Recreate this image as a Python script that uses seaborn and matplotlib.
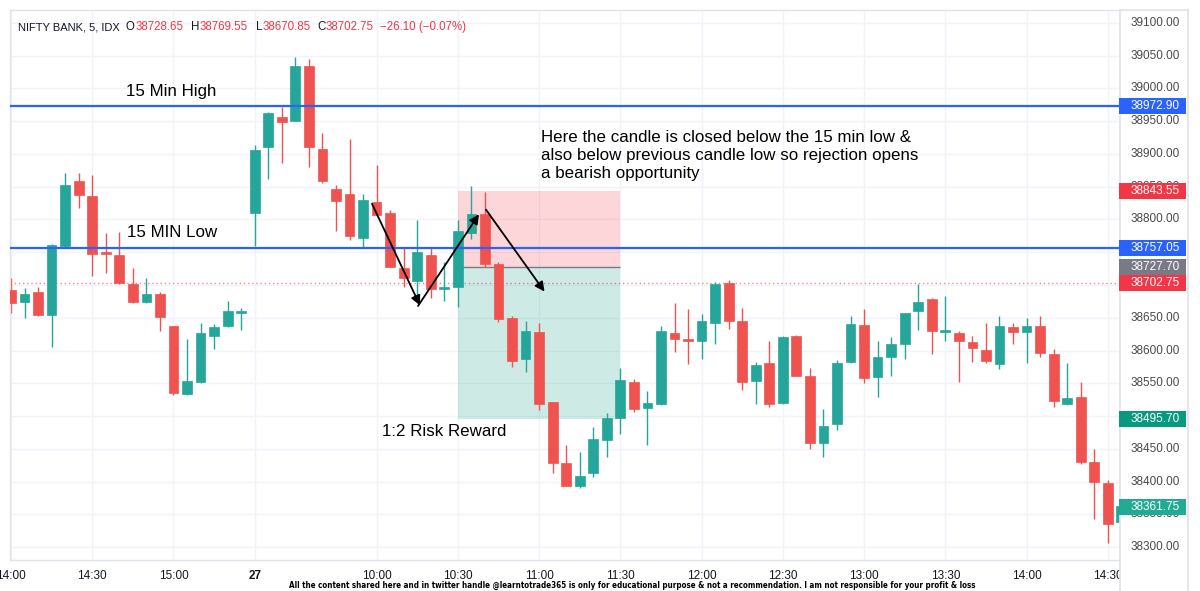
import numpy as np
import pandas as pd
import matplotlib
matplotlib.use('Agg')
import matplotlib.pyplot as plt
from matplotlib import font_manager as fm
from matplotlib.patches import Rectangle
from matplotlib.transforms import blended_transform_factory
import seaborn as sns

sns.set_theme(style='white')
plt.rcParams['font.family'] = ['Liberation Sans', 'DejaVu Sans']

# 5 min candles, NIFTY BANK (26th 14:00 .. 27th 14:35)
opens = [38692, 38674, 38689, 38654, 38760, 38859, 38836, 38751, 38746, 38701, 38674, 38686,
         38637, 38534, 38552, 38622, 38637, 38658,
         38810, 38911, 38956, 38950, 39034, 38908, 38847, 38839, 38772, 38827, 38810, 38726,
         38706, 38746, 38694, 38697, 38779, 38808, 38732, 38650, 38587, 38628, 38521, 38428,
         38393, 38413, 38463, 38497, 38552, 38512, 38518, 38627, 38618, 38614, 38642, 38703,
         38645, 38553, 38581, 38520, 38622, 38561, 38459, 38488, 38582, 38639, 38560, 38590,
         38610, 38660, 38679, 38628, 38627, 38613, 38601, 38579, 38636, 38628, 38637, 38595,
         38518, 38529, 38430, 38398, 38338]
highs = [38711, 38695, 38697, 38763, 38871, 38871, 38868, 38779, 38781, 38726, 38711, 38689,
         38638, 38618, 38642, 38640, 38676, 38665,
         38914, 38964, 38972, 39048, 39045, 38932, 38853, 38923, 38839, 38883, 38815, 38758,
         38799, 38758, 38735, 38799, 38851, 38842, 38735, 38653, 38645, 38642, 38522, 38456,
         38445, 38483, 38505, 38573, 38556, 38538, 38637, 38672, 38663, 38656, 38705, 38708,
         38665, 38582, 38614, 38622, 38623, 38573, 38511, 38586, 38653, 38663, 38614, 38621,
         38657, 38702, 38680, 38683, 38630, 38622, 38642, 38653, 38642, 38650, 38653, 38602,
         38581, 38552, 38450, 38402, 38372]
lows = [38657, 38650, 38653, 38605, 38758, 38818, 38714, 38718, 38702, 38673, 38672, 38630,
        38532, 38532, 38551, 38602, 38636, 38631,
        38759, 38862, 38886, 38950, 38880, 38856, 38782, 38769, 38757, 38806, 38727, 38697,
        38680, 38680, 38676, 38666, 38770, 38727, 38643, 38575, 38567, 38509, 38413, 38393,
        38390, 38407, 38437, 38472, 38506, 38456, 38517, 38598, 38579, 38587, 38610, 38633,
        38540, 38518, 38514, 38518, 38561, 38450, 38437, 38479, 38581, 38550, 38529, 38561,
        38587, 38631, 38595, 38614, 38552, 38582, 38581, 38572, 38610, 38581, 38590, 38514,
        38517, 38427, 38343, 38306, 38332]
closes = [38672, 38686, 38654, 38761, 38853, 38837, 38747, 38748, 38703, 38674, 38686, 38651,
          38535, 38553, 38627, 38636, 38660, 38660,
          38906, 38963, 38949, 39034, 38911, 38859, 38828, 38775, 38830, 38807, 38728, 38711,
          38750, 38694, 38697, 38782, 38808, 38732, 38648, 38584, 38630, 38518, 38428, 38393,
          38408, 38465, 38497, 38555, 38511, 38520, 38630, 38618, 38614, 38645, 38701, 38645,
          38552, 38578, 38518, 38621, 38561, 38459, 38485, 38581, 38640, 38558, 38590, 38610,
          38657, 38674, 38630, 38631, 38614, 38604, 38584, 38637, 38628, 38637, 38596, 38523,
          38528, 38430, 38399, 38335, 38362]

tick_stamps = ['2022-09-26 14:00', '2022-09-26 14:30', '2022-09-26 15:00', '2022-09-27 09:15',
               '2022-09-27 10:00', '2022-09-27 10:30', '2022-09-27 11:00', '2022-09-27 11:30',
               '2022-09-27 12:00', '2022-09-27 12:30', '2022-09-27 13:00', '2022-09-27 13:30',
               '2022-09-27 14:00', '2022-09-27 14:30']
tick_labels = ['14:00', '14:30', '15:00', '27', '10:00', '10:30', '11:00', '11:30',
               '12:00', '12:30', '13:00', '13:30', '14:00', '14:30']

price_ticks = [39100, 39050, 39000, 38950, 38900, 38850, 38800, 38750, 38700, 38650,
               38600, 38550, 38500, 38450, 38400, 38350, 38300]

# levels
high_15 = 38972.90
low_15 = 38757.05
stop = 38843.55
entry = 38727.70
target = 38495.70
last_price = 38702.75
last_bar = 38361.75
trade_start = '2022-09-27 10:30'
trade_end = '2022-09-27 11:30'

GREEN = '#26a69a'
RED = '#ef5350'
BLUE = '#2962ff'
DARK = '#131722'
GRID = '#f0f3fa'
BORDER = '#e0e3eb'

times = pd.date_range('2022-09-26 14:00', '2022-09-26 15:25', freq='5min').append(
    pd.date_range('2022-09-27 09:15', '2022-09-27 14:35', freq='5min'))
df = pd.DataFrame({'time': times, 'open': opens, 'high': highs, 'low': lows, 'close': closes})
df['x'] = np.arange(len(df))
df['color'] = np.where(df['close'] >= df['open'], GREEN, RED)
df['bottom'] = df[['open', 'close']].min(axis=1)
df['body'] = (df['close'] - df['open']).abs().clip(lower=1.5)

ticks = [times.get_loc(pd.Timestamp(t)) for t in tick_stamps]
x0 = times.get_loc(pd.Timestamp(trade_start))
x1 = times.get_loc(pd.Timestamp(trade_end))

W, H = 1200, 591
YLO, YHI = 38280.2, 39119.8
PX = (YHI - YLO) / 550  # price per pixel
fig = plt.figure(figsize=(12, 5.91), dpi=100)
ax = fig.add_axes([10 / W, 31 / H, 1110 / W, 550 / H])
ax.set_facecolor('white')

# grid
ax.set_yticks(price_ticks)
ax.set_xticks(ticks)
ax.grid(True, color=GRID, lw=1, zorder=0)
ax.set_axisbelow(True)

# trade box
ax.fill_between([x0, x1], entry, stop, color='#f23645', alpha=0.2, lw=0, zorder=1)
ax.fill_between([x0, x1], target, entry, color='#089981', alpha=0.2, lw=0, zorder=1)
ax.hlines(entry, x0, x1, color='#787b86', lw=1, zorder=1.5)

# candles
ax.vlines(df['x'], df['low'], df['high'], colors=df['color'], lw=1.0, zorder=2)
ax.bar(df['x'], df['body'], bottom=df['bottom'], width=0.72, color=df['color'],
       edgecolor=df['color'], lw=0.5, zorder=3)

# lines
ax.axhline(high_15, color=BLUE, lw=1.6, zorder=4)
ax.axhline(low_15, color=BLUE, lw=1.6, zorder=4)
ax.axhline(last_price, color='#f23645', lw=1.0, ls=(0, (1, 2)), alpha=0.6, zorder=1.5)

ax.set_xlim(-0.074, 81.9)
ax.set_ylim(YLO, YHI)

ax.tick_params(axis='y', left=False, labelleft=False)
ax.tick_params(axis='x', bottom=False, length=0, pad=7, labelsize=8.5, labelcolor=DARK)
ax.set_xticklabels(tick_labels)
for lab in ax.get_xticklabels():
    if lab.get_text() == '27':
        lab.set_fontweight('bold')
for s in ax.spines.values():
    s.set_color(BORDER)
    s.set_linewidth(1)

# arrows
arrow = dict(arrowstyle='-|>', color='black', lw=1.3, mutation_scale=14, shrinkA=0, shrinkB=0)
ax.annotate('', xy=(30.2, 38669), xytext=(26.66, 38824), arrowprops=arrow, zorder=5)
ax.annotate('', xy=(34.56, 38808), xytext=(30.06, 38668), arrowprops=arrow, zorder=5)
ax.annotate('', xy=(39.4, 38690), xytext=(35.08, 38815), arrowprops=arrow, zorder=5)

# annotations
tkw = dict(fontsize=12.2, color='black', ha='left', va='center', zorder=6)
ax.text(8.49, 38994.7, '15 Min High', **tkw)
ax.text(8.57, 38779.4, '15 MIN Low', **tkw)
ax.text(39.14, 38897, 'Here the candle is closed below the 15 min low &\n'
        'also below previous candle low so rejection opens\n'
        'a bearish opportunity', linespacing=1.25, **tkw)
ax.text(27.4, 38477, '1:2 Risk Reward', **tkw)

# right price scale
ax2 = fig.add_axes([1120 / W, 0, 68 / W, 1 - 10 / H], zorder=3)
ax2.set_facecolor('white')
ax2.set_xticks([])
ax2.set_yticks([])
for k, s in ax2.spines.items():
    s.set_color(BORDER)
    s.set_visible(k != 'bottom')
ax2.set_xlim(0, 1)
blend = blended_transform_factory(ax2.transAxes, ax.transData)
tx = 35.5 / 68

labels = [(high_15, BLUE), (stop, '#f23645'), (low_15, BLUE), (entry, '#787b86'),
          (last_price, '#f23645'), (target, '#089981'), (last_bar, '#22ab94')]
box_h = 16 * PX


def hidden(p):
    # tick label fully behind the coloured price boxes (small gaps ignored)
    lo, hi = p - 5 * PX, p + 5 * PX
    cur = lo
    for a, b in sorted((c - box_h / 2, c + box_h / 2) for c, _ in labels):
        if a <= cur + 4 * PX and b > cur:
            cur = b
    return cur >= hi


for p in price_ticks:
    if hidden(p):
        continue
    ax2.text(tx, p, f'{p:.2f}', transform=blend, ha='center', va='center',
             fontsize=8.5, color='#4a4a4a', clip_on=False)

for p, c in labels:
    ax2.add_patch(Rectangle((-1 / 68, p - box_h / 2), 67 / 68, box_h, transform=blend,
                            facecolor=c, edgecolor='none', clip_on=False, zorder=4))
    ax2.text(tx, p, f'{p:.2f}', transform=blend, ha='center', va='center',
             fontsize=8.5, color='white', zorder=5, clip_on=False)

# header
hy = 1 - 27 / H
fig.text(18 / W, hy, 'NIFTY BANK, 5, IDX', fontsize=8, color=DARK, va='center')
hred = '#f23645'
for lab, xl, val, xv in [('O', 126, '38728.65', 136), ('H', 191, '38769.55', 200),
                         ('L', 256, '38670.85', 263), ('C', 317, '38702.75', 326)]:
    fig.text(xl / W, hy, lab, fontsize=8.3, color=DARK, va='center')
    fig.text(xv / W, hy, val, fontsize=8.3, color=hred, va='center')
fig.text(380 / W, hy, '\u221226.10 (\u22120.07%)', fontsize=8.3, color=hred, va='center')

# footer (narrow bold font if available)
names = {f.name for f in fm.fontManager.ttflist}
foot = dict(ha='center', va='center', fontweight='bold', color='black', zorder=10)
if 'Liberation Sans Narrow' in names:
    foot.update(family='Liberation Sans Narrow', fontsize=6.4)
elif any(f.name == 'DejaVu Sans' and f.stretch == 'condensed' for f in fm.fontManager.ttflist):
    foot.update(family='DejaVu Sans', fontstretch='condensed', fontsize=5.75)
else:
    foot.update(family='Liberation Sans', fontsize=5.5)
fig.text(632 / W, 1 - 585 / H,
         'All the content shared here and in twitter handle @learntotrade365 is only for educational '
         'purpose & not a recommendation. I am not responsible for your profit & loss', **foot)

fig.savefig('out.png', dpi=100, facecolor='white')
